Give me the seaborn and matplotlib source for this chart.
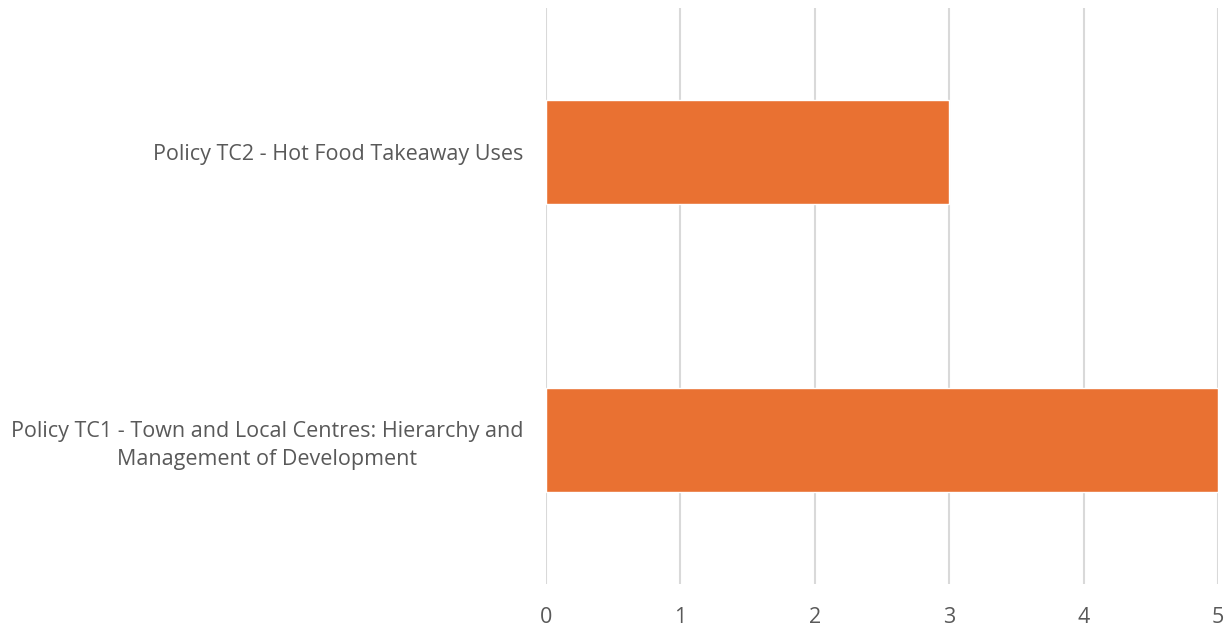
import matplotlib
matplotlib.use("Agg")
import matplotlib.pyplot as plt
import seaborn as sns

policies = [
    "Policy TC2 - Hot Food Takeaway Uses",
    "Policy TC1 - Town and Local Centres: Hierarchy and\nManagement of Development",
]
counts = [3, 5]
xticks = [0, 1, 2, 3, 4, 5]

sns.set_style("white")
plt.rcParams["font.family"] = ["Open Sans", "DejaVu Sans"]

fig = plt.figure(figsize=(12.3, 6.31), dpi=100)
ax = fig.add_axes([546 / 1230, 47 / 631, 672 / 1230, 576 / 631])

sns.barplot(x=counts, y=policies, orient="h", color="#E97132",
            saturation=1, width=0.36, ax=ax, zorder=3)

ax.set_xlim(0, 5)
ax.set_xticks(xticks)
ax.set_ylim(1.5, -0.5)
ax.grid(axis="x", color="#D9D9D9", linewidth=1.5, zorder=0)
ax.grid(axis="y", visible=False)
for s in ax.spines.values():
    s.set_visible(False)
ax.tick_params(axis="both", length=0, colors="#595959", labelsize=15.5)
ax.tick_params(axis="x", pad=16.5)
ax.tick_params(axis="y", pad=16.5)
for lbl in ax.get_yticklabels():
    lbl.set_multialignment("center")
    lbl.set_linespacing(1.4)
ax.set_xlabel("")
ax.set_ylabel("")

fig.savefig("out.png", dpi=100)
